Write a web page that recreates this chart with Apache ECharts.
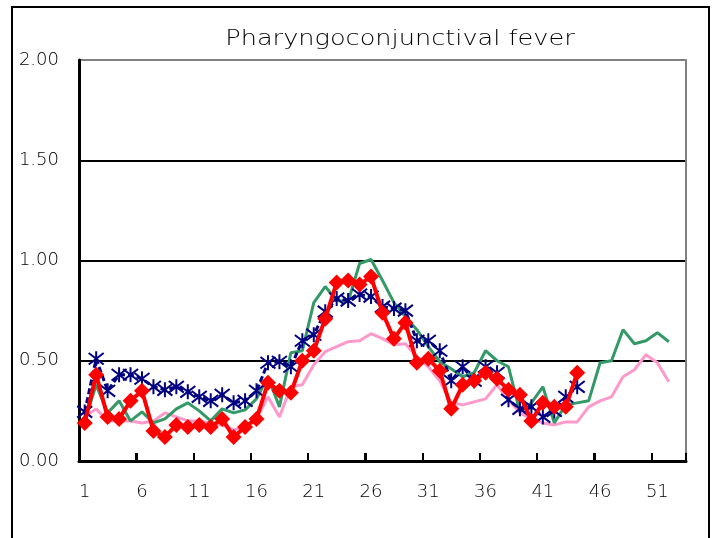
<!DOCTYPE html>
<html>
<head>
<meta charset="utf-8">
<script src="https://cdn.jsdelivr.net/npm/echarts@6/dist/echarts.min.js"></script>
<style>
html,body{margin:0;padding:0;background:#fff;}
#chart{width:718px;height:538px;}
</style>
</head>
<body>
<div id="chart"></div>
<script>
const weeks = Array.from({length: 53}, (_, i) => String(i + 1));
const tickWeeks = ['6', '11', '16', '21', '26', '31', '36', '41', '46', '51'];
const yTicks = [0, 0.5, 1.0, 1.5, 2.0];
const titleText = 'Pharyngoconjunctival fever';

const pinkSeries = [0.22,0.26,0.20,0.20,0.20,0.19,0.20,0.24,0.22,0.20,0.20,0.19,0.18,0.155,0.17,0.21,0.32,0.22,0.37,0.38,0.48,0.545,0.57,0.595,0.60,0.635,0.61,0.58,0.585,0.52,0.47,0.40,0.29,0.28,0.295,0.31,0.38,0.305,0.24,0.21,0.19,0.18,0.195,0.195,0.27,0.30,0.32,0.42,0.455,0.53,0.49,0.395];
const greenSeries = [0.20,0.38,0.24,0.30,0.20,0.245,0.19,0.21,0.26,0.29,0.25,0.20,0.26,0.24,0.255,0.31,0.42,0.27,0.54,0.55,0.79,0.87,0.80,0.795,0.985,1.005,0.90,0.79,0.72,0.655,0.57,0.495,0.46,0.42,0.44,0.55,0.50,0.47,0.245,0.29,0.37,0.19,0.28,0.29,0.30,0.49,0.50,0.655,0.585,0.60,0.64,0.595];
const navySeries = [0.245,0.51,0.35,0.43,0.43,0.41,0.37,0.355,0.37,0.345,0.32,0.30,0.33,0.29,0.30,0.35,0.49,0.495,0.47,0.60,0.63,0.745,0.81,0.80,0.83,0.82,0.77,0.76,0.75,0.60,0.60,0.55,0.40,0.47,0.40,0.47,0.44,0.305,0.26,0.27,0.22,0.25,0.32,0.37];
const redSeries = [0.19,0.43,0.22,0.21,0.30,0.35,0.15,0.12,0.18,0.17,0.18,0.17,0.21,0.12,0.17,0.21,0.39,0.35,0.34,0.50,0.55,0.71,0.89,0.90,0.88,0.92,0.74,0.61,0.69,0.49,0.51,0.45,0.26,0.38,0.40,0.44,0.41,0.355,0.33,0.20,0.29,0.27,0.27,0.44];

const FONT = 'DejaVu Sans';
const chart = echarts.init(document.getElementById('chart'), null, {renderer: 'canvas'});
chart.setOption({
  animation: false,
  backgroundColor: '#fff',
  graphic: [{
    type: 'rect', shape: {x: 12, y: 7, width: 697, height: 545},
    style: {fill: 'none', stroke: '#000', lineWidth: 2}, silent: true
  }, {
    type: 'text', x: 400, y: 40, scaleX: 1.22, silent: true,
    style: {text: titleText, font: '200 21px "DejaVu Sans"', fill: '#000', align: 'center', verticalAlign: 'middle'}
  }],
  grid: {left: 79, right: 32, top: 60, bottom: 77, containLabel: false},
  xAxis: {
    type: 'category', data: weeks, boundaryGap: true,
    axisLine: {show: true, lineStyle: {color: '#000', width: 3}},
    axisTick: {show: true, inside: true, interval: 4, length: 8, lineStyle: {color: '#000', width: 2}},
    axisLabel: {interval: 4, fontFamily: FONT, fontWeight: 200, fontSize: 18, color: '#000', margin: 22},
    splitLine: {show: false}
  },
  yAxis: [{
    type: 'value', min: yTicks[0], max: yTicks[yTicks.length - 1], interval: 0.5,
    axisLine: {show: true, lineStyle: {color: '#000', width: 3}},
    axisTick: {show: false},
    axisLabel: {fontFamily: FONT, fontWeight: 200, fontSize: 18, color: '#000', margin: 20, formatter: v => v.toFixed(2)},
    splitLine: {show: true, lineStyle: {color: ['#000', '#000', '#000', '#000', '#808080'], width: 2}}
  }, {
    type: 'value', min: 0, max: 2, interval: 0.5, position: 'right',
    axisLine: {show: true, lineStyle: {color: '#808080', width: 2}},
    axisTick: {show: false}, axisLabel: {show: false}, splitLine: {show: false}
  }],
  series: [
    {type: 'custom', data: tickWeeks.map(w => [w, 0]), clip: false, z: 6, silent: true,
     renderItem: (params, api) => {
       const p = api.coord([api.value(0), 0]);
       const half = api.size([1, 0])[0] / 2;
       const x = Math.round(p[0] - half);
       return {type: 'line', shape: {x1: x, y1: p[1], x2: x, y2: p[1] - 8},
               style: {stroke: '#000', lineWidth: 2}};
     }},
    {type: 'line', data: pinkSeries, symbol: 'none', lineStyle: {color: '#FF99CC', width: 3}, itemStyle: {color: '#FF99CC'}, z: 2},
    {type: 'line', data: greenSeries, symbol: 'none', lineStyle: {color: '#339966', width: 3}, itemStyle: {color: '#339966'}, z: 3},
    {type: 'line', data: navySeries, showAllSymbol: true, symbol: 'path://M0,0L10,10M10,0L0,10M5,-1.5L5,11.5', symbolSize: 15,
     lineStyle: {color: '#000080', width: 3, type: [6, 3]},
     itemStyle: {color: '#000080', borderColor: '#000080', borderWidth: 2}, z: 4},
    {type: 'line', data: redSeries, showAllSymbol: true, symbol: 'diamond', symbolSize: 16,
     lineStyle: {color: '#FF0000', width: 4}, itemStyle: {color: '#FF0000'}, z: 5}
  ]
});
</script>
</body>
</html>
